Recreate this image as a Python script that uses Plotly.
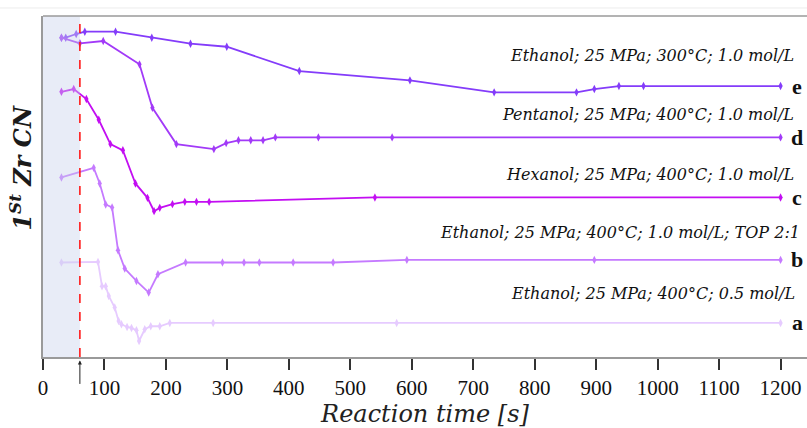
import plotly.graph_objects as go

# ---- data (time in s, CN offset in arbitrary plot units) ----
t_e = [30, 37, 54, 68, 118, 177, 240, 299, 417, 597, 734, 868, 897, 937, 977, 1200]
y_e = [319, 319, 322.7, 325, 325, 319, 313, 310, 285.7, 276.4, 264.4, 264.4, 267.7, 270.7, 270.7, 270.7]

t_d = [30, 60, 98, 157, 178, 217, 278, 298, 318, 338, 358, 378, 448, 568, 1200]
y_d = [319, 313.4, 315.7, 292.4, 249, 212.7, 207.7, 213.7, 216.5, 216.5, 216.5, 219.4, 219.4, 219.4, 219.4]

t_c = [30, 50, 70.6, 90.7, 109.7, 130, 150.4, 170, 180.7, 190, 210.6, 230.7, 249.7, 270.3, 540, 1200]
y_c = [265, 267.7, 257.7, 237, 212.7, 206.5, 173.4, 159, 145.7, 149, 152.7, 155, 155, 155, 159.4, 159.4]

t_b = [30, 82.5, 92.3, 102, 112.4, 122, 133, 152, 172, 187, 232, 292, 327, 352, 407, 472, 592, 897, 1200]
y_b = [179.4, 189, 173.4, 152.4, 149.4, 106.7, 88.4, 76, 64.4, 82.7, 94.4, 94.4, 94.4, 94.4, 94.4, 94.4, 97, 97, 97]

t_a = [30, 89.5, 96, 102, 107, 116.7, 123, 127.6, 136.8, 144, 152, 156.3, 165.6, 175.3, 190, 206.3, 276.8, 575.4, 1200]
y_a = [94.4, 95, 70.7, 70.7, 61, 49.4, 36, 32.7, 30, 29, 26.7, 16, 27.7, 30.7, 30.7, 34, 34, 34, 34]

labels = ["Ethanol; 25 MPa; 300°C; 1.0 mol/L",
          "Pentanol; 25 MPa; 400°C; 1.0 mol/L",
          "Hexanol; 25 MPa; 400°C; 1.0 mol/L",
          "Ethanol; 25 MPa; 400°C; 1.0 mol/L; TOP 2:1",
          "Ethanol; 25 MPa; 400°C; 0.5 mol/L"]
letters = ["e", "d", "c", "b", "a"]
label_y = [301.5, 242.5, 182.5, 124.5, 63.5]
label_x = [1222, 1222, 1222, 1232, 1224]
x_ticks = list(range(0, 1201, 100))
t_shade = 60

series = [(t_e, y_e, "#843cfa"), (t_d, y_d, "#a23af8"), (t_c, y_c, "#c30ef2"),
          (t_b, y_b, "#c57aff"), (t_a, y_a, "#e6cbff")]

fig = go.Figure()
for (tx, ty, col) in series:
    fig.add_trace(go.Scatter(x=tx, y=ty, mode="lines+markers",
                             line=dict(color=col, width=1.8),
                             marker=dict(symbol="diamond-tall", size=6, color=col),
                             showlegend=False, hoverinfo="skip"))

serif_it = "DejaVu Serif"
for lab, lx, ly in zip(labels, label_x, label_y):
    fig.add_annotation(x=lx, y=ly, text="<i>" + lab + "</i>", showarrow=False,
                       xanchor="right", yanchor="middle", xshift=2,
                       font=dict(family=serif_it, size=16, color="#111"))
for (tx, ty, col), let in zip(series, letters):
    fig.add_annotation(x=1227, y=ty[-1], text="<b>" + let + "</b>", showarrow=False,
                       xanchor="center", yanchor="middle",
                       font=dict(family="Liberation Serif", size=22, color="#111"))

# shaded pre-injection region (drawn above to lighten lines inside)
fig.add_shape(type="rect", xref="x", yref="paper", x0=0, x1=t_shade, y0=0, y1=1,
              fillcolor="rgb(200,210,235)", opacity=0.42, line=dict(width=0), layer="above")
fig.add_shape(type="line", xref="x", yref="paper", x0=t_shade, x1=t_shade, y0=0, y1=1,
              line=dict(color="#ff1a1a", width=1.6, dash="dash"), layer="above")
# top frame line and faint page line
fig.add_shape(type="line", xref="paper", yref="paper", x0=0, x1=1.05, y0=1, y1=1,
              line=dict(color="#9a9a9a", width=1.6))
fig.add_shape(type="line", xref="paper", yref="paper", x0=-0.1, x1=1.1, y0=1.0235, y1=1.0235,
              line=dict(color="#ececec", width=1))
# arrow under axis
fig.add_annotation(x=t_shade, y=-0.01, xref="x", yref="paper", ax=0, ay=25,
                   axref="pixel", ayref="pixel", showarrow=True, arrowhead=2, arrowsize=0.8,
                   arrowwidth=1, arrowcolor="#222", standoff=0, startstandoff=0, text="")

# axis titles
fig.add_annotation(xref="paper", yref="paper", x=-0.029, y=0.555, textangle=-90,
                   text="<b><i>1<sup>St</sup> Zr CN</i></b>", showarrow=False,
                   xanchor="center", yanchor="middle",
                   font=dict(family=serif_it, size=24, color="#1a1a1a"))

fig.update_layout(
    width=807, height=428,
    margin=dict(l=43, r=0, t=16, b=71),
    plot_bgcolor="white", paper_bgcolor="white",
    xaxis=dict(range=[0, 1243], tickvals=x_ticks, showgrid=False, zeroline=False,
               showline=True, linecolor="#9a9a9a", linewidth=1.6,
               ticks="outside", ticklen=11, tickwidth=1.5, tickcolor="#333",
               tickfont=dict(family="Liberation Serif", size=21, color="#111"),
               title=dict(text="<i>Reaction time [s]</i>", standoff=6,
                          font=dict(family=serif_it, size=24, color="#222"))),
    yaxis=dict(range=[0, 340.7], showticklabels=False, ticks="", showgrid=False,
               zeroline=False, showline=True, linecolor="#9a9a9a", linewidth=1.6),
)
fig.write_html("out.html")
